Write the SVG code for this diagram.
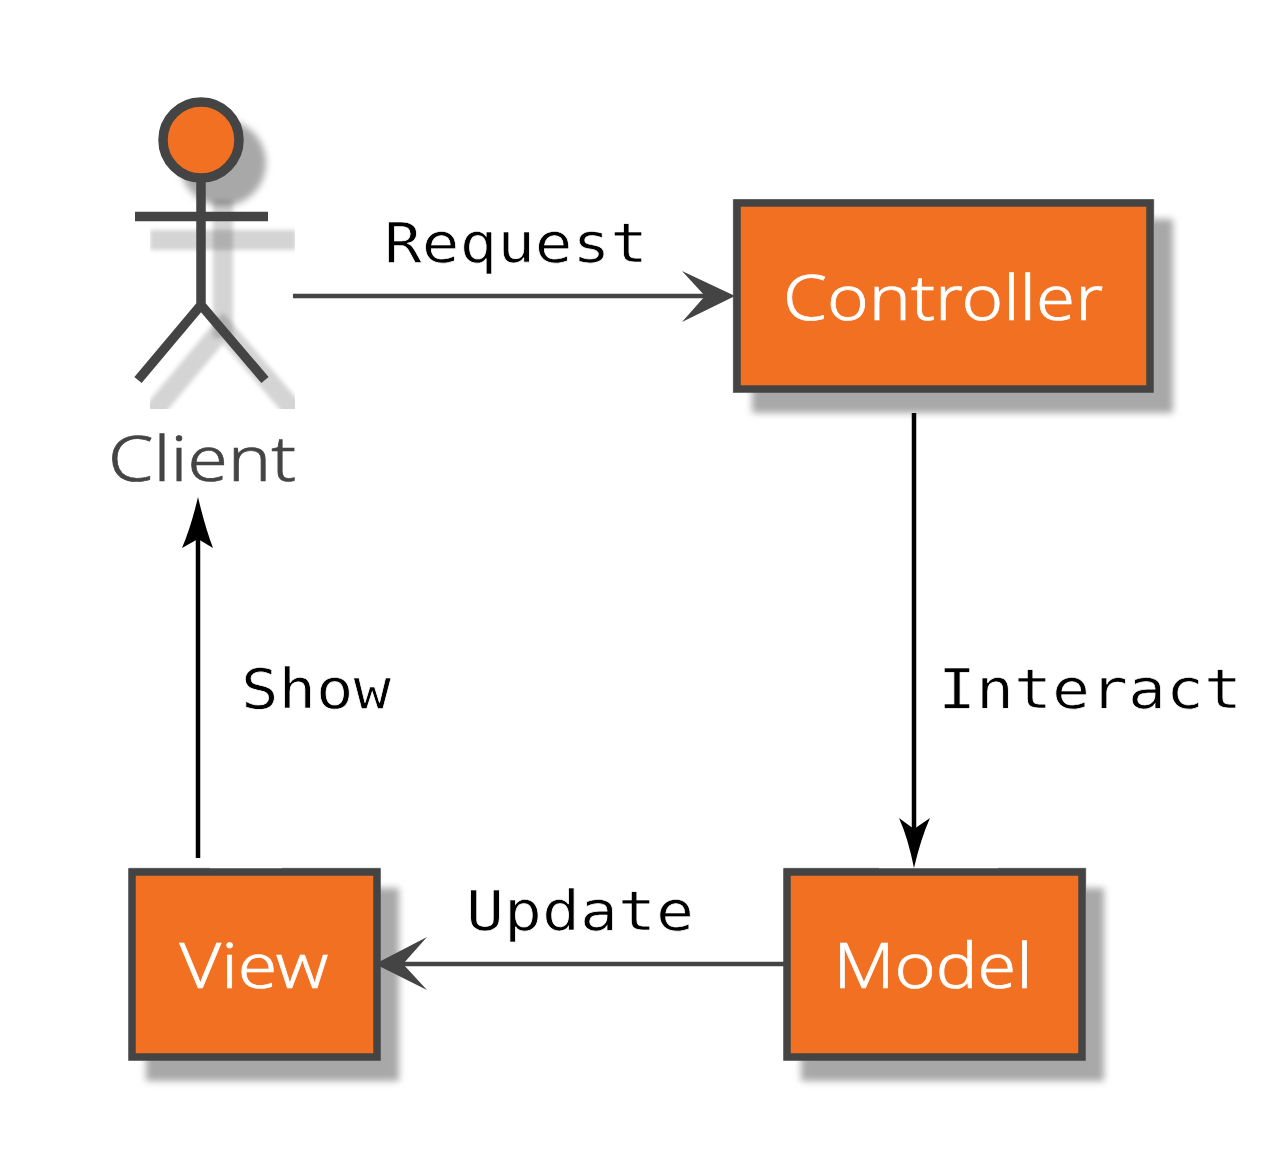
<svg xmlns="http://www.w3.org/2000/svg" width="1273" height="1150" viewBox="0 0 1273 1150">
<defs>
<style>
.box{fill:#f27021;stroke:#444;stroke-width:7.5}
.edgeline{fill:none;stroke:#aaa;stroke-width:1.500}
.shadow{fill:#a8a8a8;filter:url(#blur)}
.lbl{font-family:"Noto Sans","Open Sans",sans-serif;font-size:63px;font-weight:300;fill:#fff;stroke:#fff;stroke-width:.7;text-anchor:middle}
.edge{font-family:"DejaVu Sans Mono","Liberation Mono",monospace;font-size:56px;fill:#000;stroke:#fff;stroke-width:.7}
.actor{fill:none;stroke:#444;stroke-width:9.500}
.ashadow{fill:none;stroke:#000;stroke-opacity:.17;stroke-width:20;stroke-linecap:square;filter:url(#blur2)}
.line{fill:none;stroke-width:4.500}
</style>
<filter id="blur" x="-20%" y="-20%" width="140%" height="140%"><feGaussianBlur stdDeviation="3.5"/></filter>
<filter id="blur2" filterUnits="userSpaceOnUse" x="100" y="80" width="220" height="350"><feGaussianBlur stdDeviation="2"/></filter>
<clipPath id="clip"><rect x="150" y="100" width="145" height="309"/></clipPath>
</defs>
<rect width="1273" height="1150" fill="#fff"/>
<g id="client">
<circle cx="223" cy="163" r="43" style="fill:#a8a8a8;filter:url(#blur)"/>
<g clip-path="url(#clip)">
<path class="ashadow" d="M223 210V328"/>
<path class="ashadow" d="M160 240H286"/>
<path class="ashadow" d="M158 406L223 328L290 406"/>
</g>
<circle class="actor" cx="201" cy="140" r="38" style="fill:#f27021"/>
<path class="actor" d="M201 178V305M135 216.500H268M138 380L201 305L265 380"/>
<text x="202" y="481" class="lbl" style="fill:#444;stroke:#444" textLength="188" lengthAdjust="spacingAndGlyphs">Client</text>
</g>
<g id="controller">
<rect class="shadow" x="752" y="219" width="421" height="194"/>
<path class="edgeline" d="M733.500 393V200H1153.500V392"/>
<rect class="box" x="737" y="203" width="413" height="186"/>
<text x="943" y="320" class="lbl" textLength="320" lengthAdjust="spacingAndGlyphs">Controller</text>
</g>
<g id="model">
<rect class="shadow" x="801" y="888" width="303" height="193"/>
<path class="edgeline" d="M784 868.500H879M998 868.500H1085.500V1060"/>
<rect class="box" x="787" y="872" width="295" height="185"/>
<text x="933" y="988" class="lbl" textLength="199" lengthAdjust="spacingAndGlyphs">Model</text>
</g>
<g id="view">
<rect class="shadow" x="146" y="888" width="253" height="193"/>
<path class="edgeline" d="M129 868.500H210M282 868.500H380"/>
<rect class="box" x="132" y="872" width="245" height="185"/>
<text x="254" y="988" class="lbl" textLength="149" lengthAdjust="spacingAndGlyphs">View</text>
</g>
<g id="connectors">
<path class="line" d="M293 296H710" stroke="#444"/>
<path d="M735 296L682 271L705 296L682 322Z" fill="#444"/>
<path class="line" d="M914 413V845" stroke="#000"/>
<path d="M914 868Q921 838 930 818L914 829L899 818Q908 838 914 868Z" fill="#000"/>
<path class="line" d="M784 964H400" stroke="#444"/>
<path d="M375 964L427 937L403 964L427 990Z" fill="#444"/>
<path class="line" d="M198 858V525" stroke="#000"/>
<path d="M198 497Q191 527 182 548L198 539L213 548Q205 527 198 497Z" fill="#000"/>
</g>
<g id="labels">
<text x="384" y="262" class="edge" textLength="264" lengthAdjust="spacingAndGlyphs">Request</text>
<text x="938" y="708" class="edge" textLength="304" lengthAdjust="spacingAndGlyphs">Interact</text>
<text x="466" y="930" class="edge" textLength="228" lengthAdjust="spacingAndGlyphs">Update</text>
<text x="241" y="708" class="edge" textLength="150" lengthAdjust="spacingAndGlyphs">Show</text>
</g>
</svg>
